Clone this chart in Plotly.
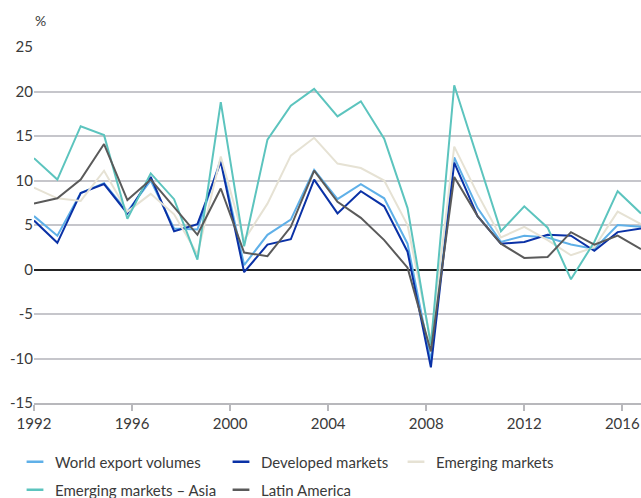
import plotly.graph_objects as go

years = list(range(1992, 2019))

world = [6.0, 3.8, 8.6, 9.7, 6.5, 10.0, 4.6, 4.5, 12.4, 0.5, 3.9, 5.6, 11.2, 7.9,
         9.6, 8.0, 2.9, -10.3, 12.6, 6.9, 3.1, 3.8, 3.6, 2.8, 2.3, 5.0, 4.8]
developed = [5.5, 3.0, 8.6, 9.6, 6.3, 10.4, 4.3, 5.1, 12.1, -0.3, 2.8, 3.4, 10.1, 6.3,
             8.8, 7.1, 2.0, -11.0, 12.0, 6.0, 2.9, 3.1, 3.9, 3.8, 2.1, 4.2, 4.6]
emerging = [9.2, 8.0, 7.7, 11.1, 6.5, 8.5, 6.2, 1.7, 12.7, 3.3, 7.4, 12.8, 14.8, 11.9,
            11.4, 10.0, 5.0, -8.0, 13.8, 8.5, 3.6, 4.8, 3.3, 1.6, 2.5, 6.5, 5.1]
em_asia = [12.5, 10.1, 16.1, 15.1, 5.7, 10.8, 7.9, 1.1, 18.8, 2.6, 14.6, 18.4, 20.3, 17.2,
           18.9, 14.7, 6.9, -8.5, 20.7, 12.5, 4.3, 7.1, 4.7, -1.1, 3.1, 8.8, 6.3]
latam = [7.4, 8.0, 10.1, 14.1, 7.8, 10.1, 7.0, 3.9, 9.1, 1.9, 1.5, 4.8, 11.1, 7.6,
         5.8, 3.3, 0.2, -9.2, 10.4, 6.0, 2.9, 1.3, 1.4, 4.2, 2.8, 3.8, 2.3]

series_names = ["World export volumes", "Developed markets", "Emerging markets",
                "Emerging markets – Asia", "Latin America"]
series_values = [world, developed, emerging, em_asia, latam]
colors = ["#5fb0e8", "#0a31a6", "#e6e2d4", "#5cc4be", "#5a5a5a"]

x_tick_labels = ["1992", "1996", "2000", "2004", "2008", "2012", "2016"]
y_tick_values = [-15, -10, -5, 0, 5, 10, 15, 20, 25]
y_tick_labels = ["-15", "-10", "-5", "0", "5", "10", "15", "20", "25"]

FONT = "Lato"
TXT = "#3a3a3a"

W, H = 641, 498
L, T, B = 34, 47, 95
pw = W - L
ph = H - T - B
bottom_fig = T + ph

fig = go.Figure()
for name, vals, c in zip(series_names, series_values, colors):
    fig.add_trace(go.Scatter(x=years, y=vals, mode="lines", name=name,
                             line=dict(color=c, width=2), showlegend=False,
                             hoverinfo="skip"))

# legend entries (short dash symbols), each in its own legend box
# (text start x, row centre y) in pixels
legend_pos = [(55, 462), (261, 462), (436, 462), (55, 490), (261, 490)]
layout_legends = {}
for i, (name, c, (px, py)) in enumerate(zip(series_names, colors, legend_pos)):
    key = "legend" if i == 0 else f"legend{i+1}"
    fig.add_trace(go.Scatter(x=[None], y=[None], mode="markers", name=name,
                             marker=dict(symbol="line-ew-open", size=12, color=c,
                                         line=dict(width=2.5, color=c)),
                             legend=key, showlegend=True))
    layout_legends[key] = dict(
        x=(px - 40 - L) / pw, xanchor="left",
        y=-(py - bottom_fig) / ph, yanchor="middle",
        orientation="h", bgcolor="rgba(0,0,0,0)", borderwidth=0,
        font=dict(family=FONT, size=15, color=TXT), itemwidth=30,
    )

tick_step = 4.2
fig.update_layout(
    width=W, height=H,
    margin=dict(l=L, r=0, t=T, b=B, pad=0, autoexpand=False),
    paper_bgcolor="white", plot_bgcolor="white",
    font=dict(family=FONT, size=15, color=TXT),
    hovermode=False,
    xaxis=dict(
        range=[years[0], years[-1]],
        tickvals=[years[0] + tick_step * i for i in range(len(x_tick_labels))],
        ticktext=x_tick_labels,
        showgrid=False, zeroline=False,
        showline=True, linecolor="#b8b8bc", linewidth=1.5,
        ticks="outside", ticklen=6, tickwidth=1.5, tickcolor="#b8b8bc",
        tickfont=dict(family=FONT, size=15, color=TXT),
    ),
    yaxis=dict(
        range=[-15, 25],
        tickvals=y_tick_values, ticktext=y_tick_labels,
        showgrid=True, gridcolor="#c6c6cb", gridwidth=1.5,
        zeroline=True, zerolinecolor="#222222", zerolinewidth=1.5,
        showline=False, ticks="",
        tickfont=dict(family=FONT, size=15, color=TXT),
    ),
    annotations=[dict(text="%", xref="paper", yref="paper",
                      x=(33 - L) / pw, y=(bottom_fig - 20) / ph,
                      xanchor="left", yanchor="middle", showarrow=False,
                      font=dict(family=FONT, size=14, color=TXT))],
    **layout_legends,
)

fig.write_html(
    "out.html",
    config={"displayModeBar": False},
    post_script="document.body.style.margin='0';document.body.style.overflow='hidden';",
)
